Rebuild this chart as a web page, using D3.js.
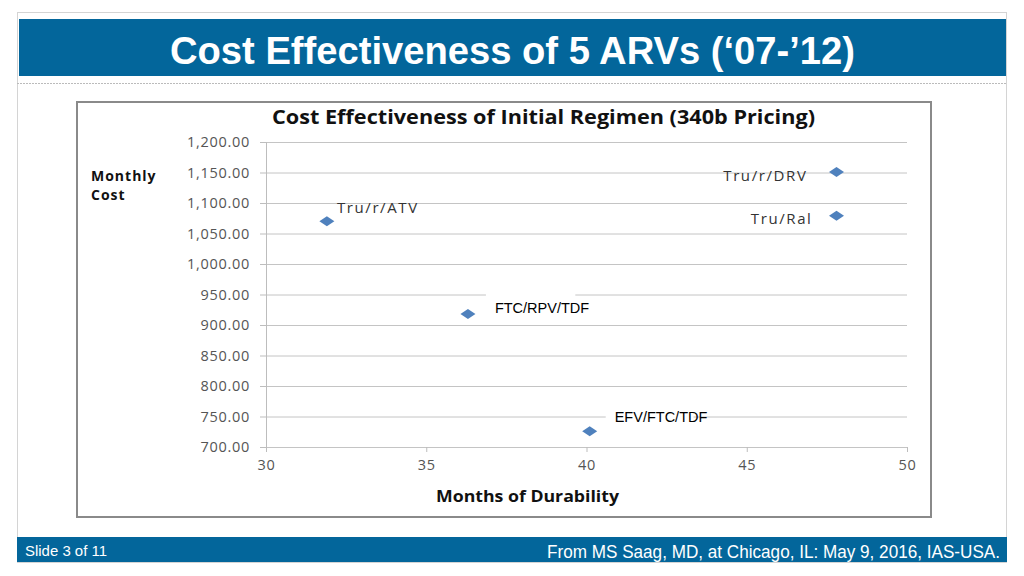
<!DOCTYPE html>
<html><head><meta charset="utf-8">
<script src="https://cdn.jsdelivr.net/npm/d3@7"></script>
<style>html,body{margin:0;padding:0;background:#fff;}svg{display:block;}</style>
</head><body>
<script>
const labels = ["Tru/r/ATV","Tru/r/DRV","Tru/Ral","FTC/RPV/TDF","EFV/FTC/TDF"];
const months = [31.9, 47.8, 47.8, 36.3, 40.1];
const costs = [1070, 1151, 1079, 918, 726];
const yTicks = [700,750,800,850,900,950,1000,1050,1100,1150,1200];
const xTicks = [30,35,40,45,50];

const W=1024,H=576;
const svg=d3.select("body").append("svg").attr("width",W).attr("height",H);
svg.append("rect").attr("width",W).attr("height",H).attr("fill","#fff");
// slide frame
svg.append("rect").attr("x",17.5).attr("y",12.5).attr("width",989).attr("height",550).attr("fill","#fff").attr("stroke","#d4d4d4");
// title bar
svg.append("rect").attr("x",19).attr("y",19).attr("width",987).attr("height",57).attr("fill","#03669b");
svg.append("text").attr("x",170).attr("y",64).attr("fill","#fff")
 .attr("font-family","'Liberation Sans Narrow','Arial Narrow','Liberation Sans',sans-serif").attr("font-weight","bold").attr("font-size",39)
 .attr("textLength",685).attr("lengthAdjust","spacingAndGlyphs")
 .text("Cost Effectiveness of 5 ARVs (\u201807-\u201912)");
svg.append("line").attr("x1",17).attr("x2",1006).attr("y1",83.5).attr("y2",83.5).attr("stroke","#bbb").attr("stroke-dasharray","2,1");
// footer
svg.append("rect").attr("x",17).attr("y",537).attr("width",990).attr("height",25).attr("fill","#03669b");
svg.append("text").attr("x",25).attr("y",556).attr("fill","#fff").attr("font-family","'Liberation Sans Narrow','Liberation Sans',sans-serif").attr("font-size",15)
 .attr("textLength",82).attr("lengthAdjust","spacingAndGlyphs").text("Slide 3 of 11");
svg.append("text").attr("x",547).attr("y",558).attr("fill","#fff").attr("font-family","'Liberation Sans Narrow','Liberation Sans',sans-serif").attr("font-size",17.5)
 .attr("textLength",453).attr("lengthAdjust","spacingAndGlyphs").text("From MS Saag, MD, at Chicago, IL: May 9, 2016, IAS-USA.");

// chart box
svg.append("rect").attr("x",77).attr("y",102).attr("width",854).attr("height",415).attr("fill","#fff").attr("stroke","#8a8a8a").attr("stroke-width",2);
const cf="'Open Sans','Lato',sans-serif";
svg.append("text").attr("x",272).attr("y",124).attr("font-family",cf).attr("font-weight","bold").attr("font-size",19).attr("fill","#111")
 .attr("textLength",543).attr("lengthAdjust","spacingAndGlyphs").text("Cost Effectiveness of Initial Regimen (340b Pricing)");

const x=d3.scaleLinear().domain([30,50]).range([266,907]);
const y=d3.scaleLinear().domain([700,1200]).range([447,142]);

// gridlines
svg.append("g").selectAll("line").data(yTicks).join("line")
 .attr("x1",266).attr("x2",907).attr("y1",d=>y(d)+0.5).attr("y2",d=>y(d)+0.5).attr("stroke","#c4c4c4");
const yg=svg.append("g").attr("transform","translate(266,0)")
 .call(d3.axisLeft(y).tickValues(yTicks).tickSize(6).tickFormat(d3.format(",.2f")).tickPadding(10));
yg.select(".domain").attr("stroke","#bdbdbd");
yg.selectAll(".tick line").attr("stroke","#bdbdbd");
yg.selectAll(".tick text").attr("font-family",cf).attr("font-size",14.5).attr("letter-spacing",0.7).attr("fill","#555");
const xg=svg.append("g").attr("transform","translate(0,447)")
 .call(d3.axisBottom(x).tickValues(xTicks).tickSize(5).tickSizeOuter(0).tickPadding(8));
xg.select(".domain").remove();
xg.selectAll(".tick line").attr("stroke","#bdbdbd");
xg.selectAll(".tick text").attr("font-family",cf).attr("font-size",14.5).attr("letter-spacing",0.6).attr("fill","#555");

const yl=svg.append("g").attr("font-family",cf).attr("font-weight","bold").attr("font-size",14).attr("letter-spacing",1).attr("fill","#111");
yl.append("text").attr("x",91).attr("y",181).text("Monthly");
yl.append("text").attr("x",91).attr("y",200).text("Cost");
svg.append("text").attr("x",436).attr("y",502).attr("font-family",cf).attr("font-weight","bold").attr("font-size",16)
 .attr("textLength",183).attr("lengthAdjust","spacingAndGlyphs").attr("fill","#111").text("Months of  Durability");

// label placements (offsets)
const lab=[
 {dx:10,dy:-8,anchor:"start",font:cf,size:15,ls:1.6,fill:"#333",bg:false},
 {dx:-29,dy:9,anchor:"end",font:cf,size:15,ls:1.6,fill:"#333",bg:false},
 {dx:-24,dy:8,anchor:"end",font:cf,size:15,ls:1.6,fill:"#333",bg:false},
 {dx:27,dy:-1,anchor:"start",font:"'Liberation Sans',Arial,sans-serif",size:14.5,ls:0,fill:"#000",bg:true},
 {dx:25,dy:-9,anchor:"start",font:"'Liberation Sans',Arial,sans-serif",size:14.5,ls:0,fill:"#000",bg:true}
];
const pts=svg.append("g");
labels.forEach((l,i)=>{
  const px=x(months[i]),py=y(costs[i]),o=lab[i];
  if(o.bg){
    const t=pts.append("text").attr("x",px+o.dx).attr("y",py+o.dy).attr("font-family",o.font).attr("font-size",o.size).text(l);
    const bb=t.node().getBBox(); t.remove();
    pts.append("rect").attr("x",bb.x-9).attr("y",bb.y-8).attr("width",bb.width-5).attr("height",bb.height+4).attr("fill","#fff");
  }
  pts.append("text").attr("x",px+o.dx).attr("y",py+o.dy).attr("text-anchor",o.anchor).attr("font-family",o.font).attr("font-size",o.size)
   .attr("letter-spacing",o.ls).attr("fill",o.fill).text(l);
  pts.append("path").attr("d","M0,-5L7.5,0L0,5L-7.5,0Z").attr("transform",`translate(${px},${py})`).attr("fill","#4f81bd");
});
</script>
</body></html>
